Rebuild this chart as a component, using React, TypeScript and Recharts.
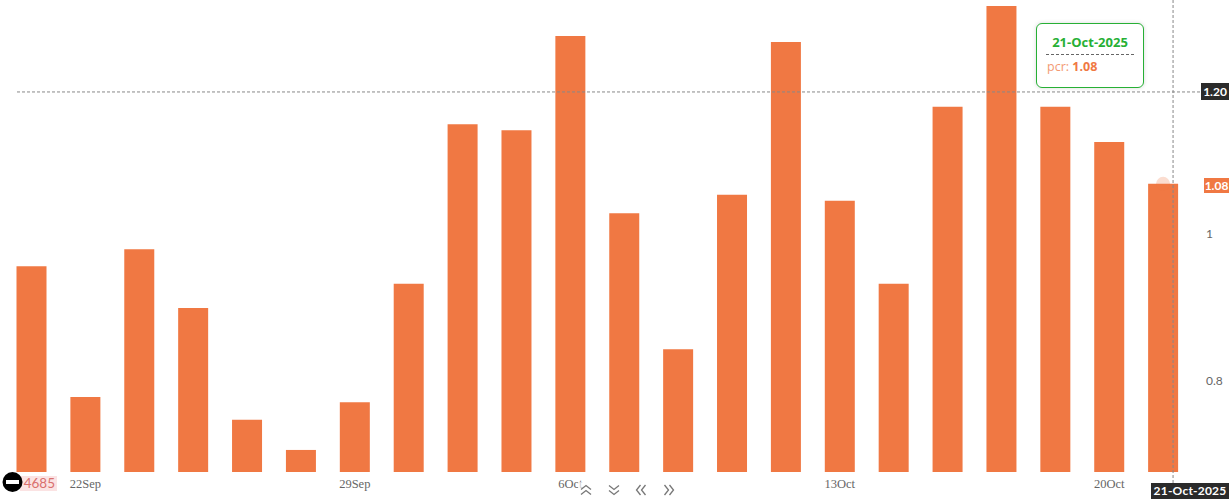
import { BarChart, Bar, XAxis, YAxis, ReferenceLine, ReferenceDot } from 'recharts';

const days = [
  '19Sep', '22Sep', '23Sep', '24Sep', '25Sep', '26Sep', '29Sep', '30Sep', '1Oct', '3Oct', '6Oct',
  '7Oct', '8Oct', '9Oct', '10Oct', '13Oct', '14Oct', '15Oct', '16Oct', '17Oct', '20Oct', '21Oct',
];
const pcr = [
  0.958, 0.78, 0.981, 0.901, 0.749, 0.708, 0.773, 0.934, 1.151, 1.143, 1.271,
  1.03, 0.845, 1.055, 1.263, 1.047, 0.934, 1.175, 1.312, 1.175, 1.127, 1.07,
];
const dayTicks = ['22Sep', '29Sep', '6Oct', '13Oct', '20Oct'];
const pcrTicks = [0.8, 1];
const pcrDomain = [0.678, 1.3201];
const crosshairValue = 1.195;

const chartData = days.map((day, i) => ({ day, pcr: pcr[i] }));

const ORANGE = '#f07843';
const GREEN = '#27b035';
const DARK = '#2b2b2b';

const pill = (left: number, top: number, width: number, height: number, bg: string): React.CSSProperties => ({
  position: 'absolute',
  left,
  top,
  width,
  height,
  lineHeight: `${height}px`,
  background: bg,
  color: '#fff',
  fontFamily: 'Lato',
  fontWeight: 700,
  fontSize: 12,
  textAlign: 'center',
});

function Chevrons({ x, rotate }: { x: number; rotate: number }) {
  return (
    <svg
      width={16}
      height={16}
      viewBox="0 0 16 16"
      style={{ position: 'absolute', left: x - 8, top: 482, background: 'rgba(255,255,255,0.7)' }}
    >
      <g transform={`rotate(${rotate} 8 8)`} fill="none" stroke="#777" strokeWidth={1.3}>
        <path d="M3 7.5 L8 3.5 L13 7.5" />
        <path d="M3 12.5 L8 8.5 L13 12.5" />
      </g>
    </svg>
  );
}

export default function App() {
  return (
    <div style={{ position: 'absolute', left: 0, top: 0, width: 1229, height: 499, background: '#fff', overflow: 'hidden' }}>
      <BarChart
        width={1229}
        height={499}
        data={chartData}
        margin={{ top: 0, right: 0, bottom: 0, left: 4.5 }}
        barSize={30}
      >
        <XAxis
          dataKey="day"
          ticks={dayTicks}
          interval={0}
          height={27}
          axisLine={false}
          tickLine={false}
          tickMargin={1}
          tick={{ fontFamily: 'Liberation Serif', fontSize: 12.5, fill: '#666' }}
        />
        <YAxis
          orientation="right"
          width={39}
          domain={pcrDomain}
          ticks={pcrTicks}
          tickFormatter={(v: number) => String(v)}
          axisLine={false}
          tickLine={false}
          tick={{ fontFamily: 'Lato', fontSize: 12, fill: '#666', dy: -1.5 }}
          tickMargin={10}
        />
        <Bar dataKey="pcr" fill={ORANGE} isAnimationActive={false} />
        <ReferenceDot x="21Oct" y={1.07} r={7} fill={ORANGE} fillOpacity={0.25} stroke="none" />
        <ReferenceLine
          y={crosshairValue}
          shape={(p: any) => (
            <line x1={17} x2={1201} y1={p.y1} y2={p.y2} stroke="#888" strokeWidth={1} strokeDasharray="3 2" />
          )}
        />
        <ReferenceLine
          x="21Oct"
          shape={(p: any) => (
            <line
              x1={p.x1 + 10}
              x2={p.x1 + 10}
              y1={0}
              y2={484}
              stroke="#888"
              strokeWidth={1}
              strokeDasharray="3 2"
            />
          )}
        />
      </BarChart>

      <div
        style={{
          position: 'absolute',
          left: 1036,
          top: 23,
          width: 108,
          height: 65,
          boxSizing: 'border-box',
          border: `1.5px solid ${GREEN}`,
          borderRadius: 6,
          background: '#fff',
          boxShadow: '0 0 4px rgba(0,0,0,0.15)',
          fontFamily: 'Open Sans',
        }}
      >
        <div style={{ color: GREEN, fontWeight: 700, fontSize: 13, textAlign: 'center', marginTop: 10, lineHeight: '17px' }}>
          21-Oct-2025
        </div>
        <div style={{ borderTop: '1px dashed #666', margin: '3px 9px 0 9px' }} />
        <div style={{ color: ORANGE, fontSize: 12.5, marginTop: 4, marginLeft: 10, lineHeight: '16px' }}>
          <span style={{ opacity: 0.75 }}>pcr:</span> <b>1.08</b>
        </div>
      </div>

      <div style={pill(1201, 83, 28, 17, DARK)}>1.20</div>
      <div style={pill(1204, 178, 25, 15, ORANGE)}>1.08</div>
      <div style={{ ...pill(1151, 483, 78, 16, DARK), letterSpacing: 0.2 }}>21-Oct-2025</div>

      <div
        style={{
          position: 'absolute',
          left: 20,
          top: 476,
          width: 37,
          height: 15,
          lineHeight: '15px',
          background: '#fbe3e3',
          color: '#d9706e',
          fontFamily: 'Lato',
          fontSize: 13.5,
          textAlign: 'right',
          paddingRight: 2,
          boxSizing: 'border-box',
        }}
      >
        4685
      </div>
      <svg width={22} height={22} style={{ position: 'absolute', left: 2, top: 471 }}>
        <circle cx={10.5} cy={11} r={10} fill="#000" />
        <rect x={4} y={9} width={13} height={4} fill="#fff" />
      </svg>

      <Chevrons x={586} rotate={0} />
      <Chevrons x={614} rotate={180} />
      <Chevrons x={641} rotate={270} />
      <Chevrons x={669} rotate={90} />
    </div>
  );
}
